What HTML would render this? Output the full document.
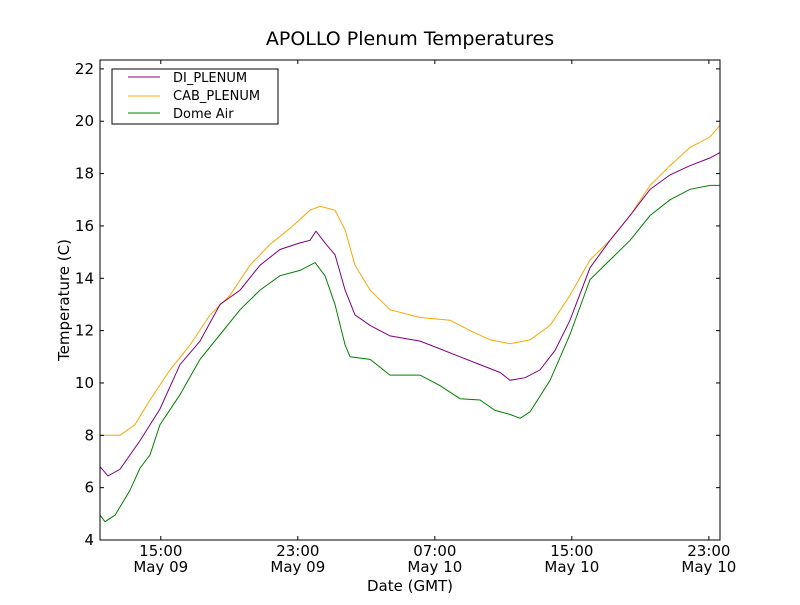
<!DOCTYPE html>
<html><head><meta charset="utf-8"><style>
body{margin:0;background:#fff}
svg text{font-family:"DejaVu Sans","Liberation Sans",sans-serif;fill:#000}
</style></head><body>
<svg id="chart" width="800" height="600" xmlns="http://www.w3.org/2000/svg">
<rect width="800" height="600" fill="#fff"/>
<text x="410" y="45" font-size="19" text-anchor="middle">APOLLO Plenum Temperatures</text>
<g id="plot"></g>
<rect x="100" y="60" width="620" height="480" fill="none" stroke="#000" stroke-width="1"/>
<g id="axes"></g>
<text x="410" y="591" font-size="15" text-anchor="middle">Date (GMT)</text>
<text x="0" y="0" font-size="15" text-anchor="middle" transform="translate(69,300) rotate(-90)">Temperature (C)</text>
<g>
<rect x="112" y="69" width="166" height="55" fill="#fff" stroke="#000" stroke-width="1"/>
<line x1="128" y1="77" x2="160" y2="77" stroke="purple"/>
<text x="173" y="82" font-size="13">DI_PLENUM</text>
<line x1="128" y1="96" x2="160" y2="96" stroke="orange"/>
<text x="173" y="100" font-size="13">CAB_PLENUM</text>
<line x1="128" y1="113" x2="160" y2="113" stroke="green"/>
<text x="173" y="118" font-size="13">Dome Air</text>
</g>
</svg>
<script>
const diTimes=[11.45,11.92,12.62,13.79,14.95,16.12,17.29,18.46,19.63,20.79,21.96,23.13,23.71,24.06,24.59,25.17,25.76,26.34,27.22,28.38,30.14,31.30,32.47,33.64,34.81,35.39,36.27,37.14,38.02,38.89,40.06,41.23,42.40,43.57,44.73,45.90,47.07,47.65];
const diValues=[6.8,6.45,6.7,7.8,9.0,10.7,11.6,13.0,13.55,14.5,15.1,15.35,15.45,15.8,15.35,14.9,13.55,12.6,12.2,11.8,11.6,11.3,11.0,10.7,10.4,10.1,10.2,10.5,11.25,12.4,14.4,15.45,16.4,17.4,17.95,18.3,18.6,18.8];
const cabTimes=[11.45,12.62,13.49,14.37,15.54,16.71,17.87,19.04,20.21,21.38,22.54,23.71,24.30,25.17,25.76,26.34,27.22,28.38,30.14,31.89,33.06,34.22,35.39,36.56,37.73,38.89,40.06,41.23,42.40,43.57,44.73,45.90,47.07,47.65];
const cabValues=[8.0,8.0,8.4,9.35,10.5,11.45,12.6,13.35,14.5,15.3,15.9,16.6,16.75,16.6,15.85,14.5,13.55,12.8,12.5,12.4,12.0,11.65,11.5,11.65,12.2,13.35,14.7,15.45,16.4,17.55,18.3,19.0,19.4,19.85];
const domeTimes=[11.45,11.74,12.33,13.20,13.79,14.37,14.95,16.12,17.29,18.46,19.63,20.79,21.96,23.13,24.01,24.59,25.17,25.76,26.05,27.22,28.38,30.14,31.30,32.47,33.64,34.52,35.39,35.98,36.56,37.73,38.89,40.06,41.23,42.40,43.57,44.73,45.90,47.07,47.65];
const domeValues=[4.95,4.7,4.95,5.9,6.75,7.25,8.4,9.55,10.9,11.85,12.8,13.55,14.1,14.3,14.6,14.1,13.0,11.45,11.0,10.9,10.3,10.3,9.9,9.4,9.35,8.95,8.8,8.65,8.9,10.1,11.85,13.95,14.7,15.45,16.4,17.0,17.4,17.55,17.55];
const yTicks=[4,6,8,10,12,14,16,18,20,22];
const xTickHours=[15,23,31,39,47];
const xTickTimes=["15:00","23:00","07:00","15:00","23:00"];
const xTickDates=["May 09","May 09","May 10","May 10","May 10"];

const X0=100,X1=720,Y0=540,Y1=60,tMin=11.45,tMax=47.65,vMin=4,vMax=22.34;
const xs=t=>X0+(t-tMin)/(tMax-tMin)*(X1-X0);
const ys=v=>Y0-(v-vMin)/(vMax-vMin)*(Y0-Y1);
const NS="http://www.w3.org/2000/svg";
const plot=document.getElementById('plot'),axes=document.getElementById('axes');
function line(ts,vs,color){
  const p=document.createElementNS(NS,'polyline');
  p.setAttribute('points',ts.map((t,i)=>xs(t).toFixed(1)+','+ys(vs[i]).toFixed(1)).join(' '));
  p.setAttribute('fill','none');p.setAttribute('stroke',color);p.setAttribute('stroke-width','1');
  
  plot.appendChild(p);
}
line(cabTimes,cabValues,'orange');

line(diTimes,diValues,'purple');

line(domeTimes,domeValues,'green');

function mk(tag,attrs,parent){const e=document.createElementNS(NS,tag);for(const k in attrs)e.setAttribute(k,attrs[k]);parent.appendChild(e);return e;}
yTicks.forEach(v=>{
  const y=ys(v);
  mk('line',{x1:X0,y1:y,x2:X0+4,y2:y,stroke:'#000'},axes);
  mk('line',{x1:X1,y1:y,x2:X1-4,y2:y,stroke:'#000'},axes);
  const t=mk('text',{x:X0-6,y:y+5,'font-size':15,'text-anchor':'end'},axes);
  t.textContent=v;
  
  
});
xTickHours.forEach((h,i)=>{
  const x=xs(h);
  mk('line',{x1:x,y1:Y0,x2:x,y2:Y0-4,stroke:'#000'},axes);
  mk('line',{x1:x,y1:Y1,x2:x,y2:Y1+4,stroke:'#000'},axes);
  const t=mk('text',{x:x,y:556,'font-size':15,'text-anchor':'middle'},axes);
  t.textContent=xTickTimes[i];
  
  
  const d=mk('text',{x:x,y:572,'font-size':15,'text-anchor':'middle'},axes);
  d.textContent=xTickDates[i];
  
  
});
</script>
</body></html>
